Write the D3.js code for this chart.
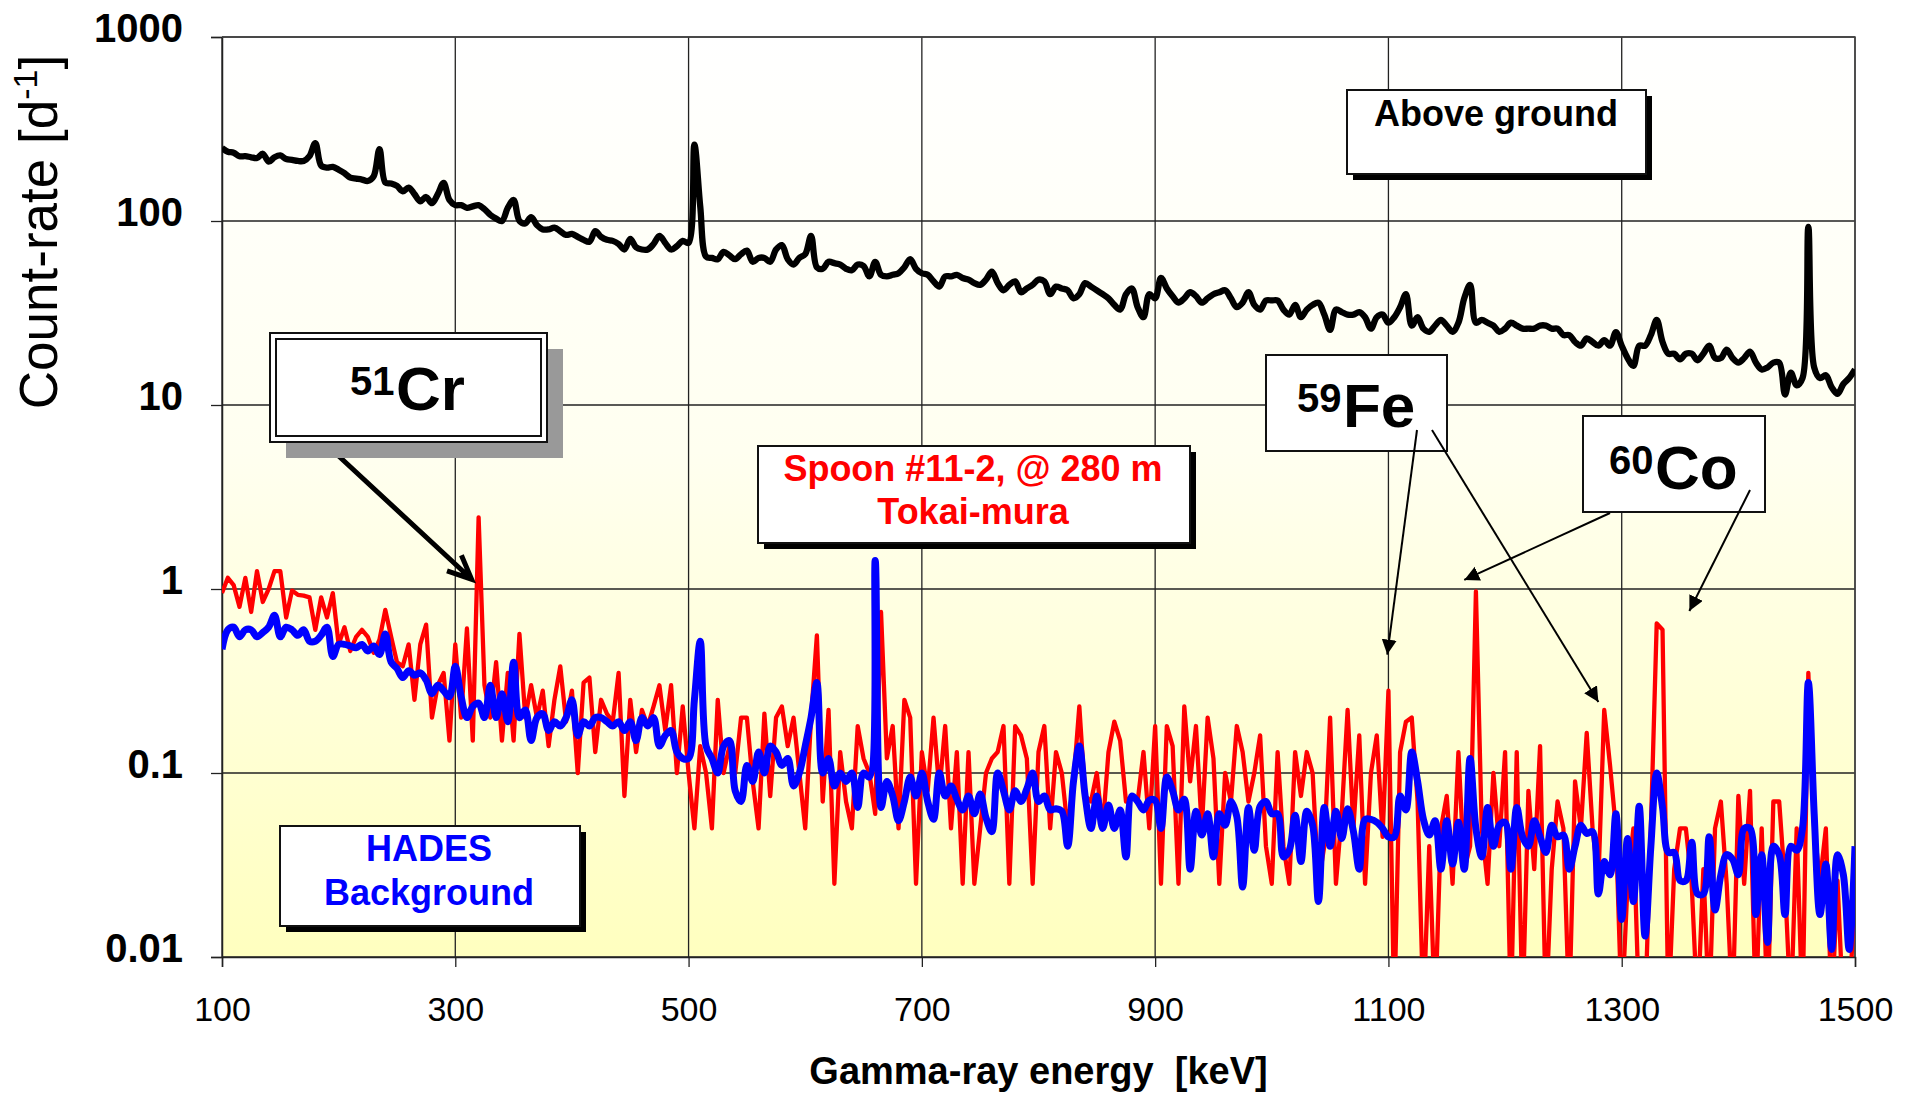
<!DOCTYPE html>
<html lang="en">
  <head>
    <meta charset="UTF-8" />
    <title>Gamma-ray spectra: above ground, Spoon #11-2 and HADES background</title>
    <script src="https://d3js.org/d3.v7.min.js"></script>
    <style>
      body { margin: 0; background: #fff; }
      text { font-family: "Liberation Sans", Arial, Helvetica, sans-serif; }
      .ytick text { font-size: 40px; font-weight: bold; }
      .xtick text { font-size: 34px; }
      .box-label { font-size: 36px; font-weight: bold; text-anchor: middle; }
      .big { font-size: 62px; font-weight: bold; }
      .sup { font-size: 40px; font-weight: bold; }
    </style>
  </head>
  <body>
    <svg id="chart" width="1910" height="1093"></svg>

    <script>
      // Spectra binned in 5 keV steps from 100 keV to 1500 keV
      const energyStart = 100;
      const energyStep = 5;

      // Count-rate [1/d] - above ground (black)
      const aboveGround = [
        249, 238, 235, 225, 225, 222, 220, 232, 210, 222, 227, 217, 215, 212, 212, 225, 265, 200, 195, 197,
        190, 182, 172, 170, 168, 165, 175, 246, 162, 160, 155, 145, 152, 140, 128, 135, 125, 140, 161, 130,
        122, 122, 118, 120, 122, 116, 108, 103, 100, 118, 130, 100, 97, 105, 95, 90, 90, 92, 88, 84,
        85, 82, 79, 77, 88, 82, 79, 78, 75, 70, 80, 72, 70, 70, 75, 83, 76, 70, 73, 78,
        76, 260, 120, 64, 63, 62, 68, 65, 62, 66, 69, 60, 63, 63, 60, 70, 74, 62, 58, 63,
        66, 83, 56, 55, 60, 59, 58, 55, 54, 58, 57, 50, 60, 51, 50, 51, 52, 56, 62, 55,
        52, 51, 47, 44, 50, 50, 51, 49, 48, 46, 45, 48, 53, 46, 42, 45, 47, 41, 43, 45,
        48, 47, 40, 44, 43, 42, 38, 40, 46, 44, 42, 40, 38, 35, 33, 40, 43, 34, 30, 40,
        38, 49, 43, 39, 36, 38, 41, 39, 36, 38, 40, 41, 42, 38, 34, 36, 41, 35, 33, 37,
        37, 37, 33, 31, 35, 30, 33, 35, 36, 31, 25.6, 33, 32, 31, 31, 32, 30, 26, 30, 31,
        28, 30, 34, 40, 27, 30, 26, 25, 27, 29, 27, 25, 28, 38, 45, 28, 29, 28, 27, 25,
        26, 28, 27, 26, 26, 26, 27, 27, 26, 26, 24, 24, 22, 21, 23, 22, 21, 22.5, 21, 24.9,
        21, 18, 16.3, 21, 21, 24, 29, 22, 19, 19, 17.7, 19, 19, 17.5, 19, 21, 18, 18, 20, 18,
        17, 18, 19.5, 17, 15.6, 16, 17, 17, 11.4, 15, 12.8, 14, 93, 16, 14, 14.5, 12.5, 11.5, 13, 14, 15.6
      ];

      // Count-rate [1/d] - Spoon #11-2 @ 280 m, Tokai-mura (red); 0.005 = empty bin
      const spoon = [
        0.95, 1.15, 1.05, 0.8, 1.15, 0.75, 1.25, 0.85, 1.0, 1.25, 1.25, 0.7, 0.98, 0.93, 0.92, 0.9, 0.6, 0.9, 0.7, 0.95,
        0.5, 0.62, 0.46, 0.55, 0.6, 0.55, 0.45, 0.53, 0.77, 0.55, 0.4, 0.38, 0.5, 0.25, 0.5, 0.64, 0.2, 0.3, 0.35, 0.15,
        0.5, 0.2, 0.61, 0.15, 2.45, 0.3, 0.2, 0.4, 0.15, 0.35, 0.15, 0.57, 0.2, 0.3, 0.2, 0.28, 0.14, 0.25, 0.38, 0.19,
        0.28, 0.1, 0.31, 0.33, 0.13, 0.25, 0.21, 0.19, 0.35, 0.075, 0.25, 0.13, 0.22, 0.18, 0.23, 0.3, 0.17, 0.3, 0.1, 0.23,
        0.1, 0.05, 0.14, 0.1, 0.05, 0.25, 0.1, 0.14, 0.1, 0.2, 0.2, 0.09, 0.05, 0.21, 0.075, 0.2, 0.23, 0.14, 0.2, 0.1,
        0.05, 0.2, 0.56, 0.07, 0.22, 0.025, 0.13, 0.07, 0.05, 0.18, 0.12, 0.1, 0.06, 0.75, 0.12, 0.18, 0.05, 0.25, 0.2, 0.025,
        0.13, 0.08, 0.2, 0.08, 0.18, 0.05, 0.13, 0.025, 0.13, 0.025, 0.05, 0.1, 0.12, 0.13, 0.18, 0.025, 0.18, 0.16, 0.12, 0.025,
        0.13, 0.18, 0.05, 0.13, 0.1, 0.05, 0.09, 0.23, 0.075, 0.07, 0.1, 0.05, 0.13, 0.19, 0.15, 0.07, 0.075, 0.07, 0.13, 0.05,
        0.18, 0.025, 0.18, 0.14, 0.025, 0.23, 0.09, 0.18, 0.05, 0.2, 0.12, 0.025, 0.1, 0.07, 0.18, 0.13, 0.07, 0.1, 0.16, 0.04,
        0.025, 0.13, 0.04, 0.025, 0.13, 0.075, 0.13, 0.1, 0.025, 0.04, 0.2, 0.025, 0.06, 0.22, 0.05, 0.16, 0.025, 0.1, 0.16, 0.045,
        0.28, 0.005, 0.13, 0.19, 0.2, 0.07, 0.005, 0.04, 0.005, 0.05, 0.075, 0.025, 0.13, 0.03, 0.04, 0.97, 0.05, 0.025, 0.1, 0.04,
        0.13, 0.005, 0.13, 0.005, 0.08, 0.03, 0.14, 0.005, 0.03, 0.07, 0.05, 0.005, 0.09, 0.05, 0.165, 0.05, 0.026, 0.22, 0.11, 0.05,
        0.005, 0.025, 0.05, 0.005, 0.005, 0.05, 0.65, 0.6, 0.005, 0.03, 0.05, 0.05, 0.025, 0.005, 0.03, 0.005, 0.05, 0.07, 0.025, 0.005,
        0.075, 0.025, 0.08, 0.005, 0.05, 0.005, 0.07, 0.07, 0.025, 0.005, 0.05, 0.005, 0.35, 0.05, 0.026, 0.05, 0.005, 0.026, 0.005, 0.005, 0.026
      ];

      // Count-rate [1/d] - HADES background (blue)
      const hades = [
        0.47, 0.6, 0.62, 0.55, 0.6, 0.6, 0.55, 0.58, 0.62, 0.72, 0.55, 0.62, 0.6, 0.56, 0.6, 0.52, 0.52, 0.56, 0.62, 0.43,
        0.5, 0.5, 0.49, 0.48, 0.5, 0.46, 0.49, 0.44, 0.57, 0.4, 0.37, 0.33, 0.36, 0.34, 0.35, 0.32, 0.27, 0.3, 0.28, 0.26,
        0.38, 0.26, 0.2, 0.23, 0.24, 0.2, 0.3, 0.2, 0.27, 0.19, 0.4, 0.2, 0.22, 0.15, 0.2, 0.21, 0.17, 0.19, 0.18, 0.2,
        0.25, 0.16, 0.19, 0.18, 0.2, 0.2, 0.19, 0.18, 0.19, 0.17, 0.19, 0.15, 0.2, 0.18, 0.2, 0.14, 0.16, 0.17, 0.13, 0.12,
        0.12, 0.25, 0.52, 0.14, 0.12, 0.1, 0.14, 0.15, 0.08, 0.07, 0.11, 0.09, 0.13, 0.1, 0.14, 0.13, 0.11, 0.12, 0.085, 0.1,
        0.14, 0.2, 0.31, 0.1, 0.12, 0.085, 0.1, 0.09, 0.1, 0.065, 0.1, 0.095, 1.43, 0.065, 0.09, 0.075, 0.055, 0.07, 0.095, 0.075,
        0.1, 0.07, 0.056, 0.1, 0.075, 0.085, 0.072, 0.063, 0.075, 0.06, 0.077, 0.057, 0.048, 0.1, 0.08, 0.063, 0.08, 0.07, 0.082, 0.1,
        0.07, 0.075, 0.063, 0.064, 0.062, 0.04, 0.09, 0.14, 0.075, 0.05, 0.075, 0.05, 0.067, 0.05, 0.063, 0.035, 0.075, 0.07, 0.063, 0.071,
        0.071, 0.05, 0.095, 0.08, 0.063, 0.072, 0.03, 0.062, 0.046, 0.06, 0.035, 0.06, 0.052, 0.07, 0.058, 0.024, 0.065, 0.038, 0.066, 0.07,
        0.06, 0.06, 0.035, 0.038, 0.059, 0.033, 0.062, 0.052, 0.02, 0.065, 0.04, 0.062, 0.044, 0.064, 0.048, 0.03, 0.056, 0.056, 0.054, 0.05,
        0.045, 0.045, 0.075, 0.063, 0.13, 0.09, 0.056, 0.046, 0.055, 0.03, 0.055, 0.032, 0.054, 0.03, 0.12, 0.05, 0.035, 0.065, 0.04, 0.052,
        0.054, 0.03, 0.065, 0.045, 0.04, 0.055, 0.045, 0.037, 0.052, 0.045, 0.046, 0.03, 0.04, 0.052, 0.047, 0.048, 0.022, 0.033, 0.028, 0.06,
        0.016, 0.044, 0.02, 0.066, 0.013, 0.04, 0.1, 0.065, 0.037, 0.037, 0.026, 0.026, 0.042, 0.022, 0.022, 0.045, 0.018, 0.028, 0.036, 0.034,
        0.028, 0.05, 0.05, 0.017, 0.036, 0.012, 0.04, 0.036, 0.017, 0.04, 0.038, 0.05, 0.31, 0.06, 0.017, 0.032, 0.011, 0.036, 0.028, 0.011, 0.04
      ];

      const xTicks = [100, 300, 500, 700, 900, 1100, 1300, 1500];
      const yTicks = [0.01, 0.1, 1, 10, 100, 1000];
      const yTickLabels = ["0.01", "0.1", "1", "10", "100", "1000"];

      // Peaks pointed at by the arrows [keV, count-rate]
      const crPeak = [314, 1.13];
      const fePeaks = [[1099, 0.44], [1280, 0.243]];
      const coPeaks = [[1165, 1.12], [1358, 0.76]];

      const svg = d3.select("#chart");
      const plot = { left: 222, right: 1855, top: 37, bottom: 957 };

      const x = d3.scaleLinear().domain([100, 1500]).range([plot.left, plot.right]);
      const y = d3.scaleLog().domain([0.01, 1000]).range([plot.bottom, plot.top]);

      const toPoints = (vals) => vals.map((v, i) => ({ e: energyStart + i * energyStep, v }));

      // Background gradient
      const defs = svg.append("defs");
      const grad = defs.append("linearGradient")
        .attr("id", "bg").attr("x1", 0).attr("y1", 0).attr("x2", 0).attr("y2", 1);
      grad.append("stop").attr("offset", "0%").attr("stop-color", "#ffffff");
      grad.append("stop").attr("offset", "45%").attr("stop-color", "#fffff0");
      grad.append("stop").attr("offset", "100%").attr("stop-color", "#ffffbf");

      defs.append("clipPath").attr("id", "clip")
        .append("rect")
        .attr("x", plot.left).attr("y", plot.top)
        .attr("width", plot.right - plot.left).attr("height", plot.bottom - plot.top);

      defs.append("marker")
        .attr("id", "head")
        .attr("markerUnits", "userSpaceOnUse")
        .attr("markerWidth", 16).attr("markerHeight", 16)
        .attr("refX", 15).attr("refY", 7.5)
        .attr("orient", "auto")
        .append("path").attr("d", "M0,0 L15,7.5 L0,15 Z").attr("fill", "#000");

      svg.append("rect")
        .attr("x", plot.left).attr("y", plot.top)
        .attr("width", plot.right - plot.left).attr("height", plot.bottom - plot.top)
        .attr("fill", "url(#bg)");

      // Grid
      svg.append("g").selectAll("line").data(xTicks).join("line")
        .attr("x1", (d) => x(d)).attr("x2", (d) => x(d))
        .attr("y1", plot.top).attr("y2", plot.bottom)
        .attr("stroke", "#222").attr("stroke-width", 1.3);
      svg.append("g").selectAll("line").data(yTicks).join("line")
        .attr("x1", plot.left).attr("x2", plot.right)
        .attr("y1", (d) => y(d)).attr("y2", (d) => y(d))
        .attr("stroke", "#222").attr("stroke-width", 1.3);

      // Axes
      const xAxis = svg.append("g")
        .attr("class", "xtick")
        .attr("transform", `translate(0,${plot.bottom})`)
        .call(d3.axisBottom(x).tickValues(xTicks).tickSize(10).tickPadding(30).tickFormat(d3.format("d")));
      xAxis.select(".domain").attr("stroke", "#222").attr("stroke-width", 1.5);
      xAxis.selectAll(".tick line").attr("stroke", "#222").attr("stroke-width", 1.3);
      xAxis.selectAll("text").attr("fill", "#000");

      const yAxis = svg.append("g")
        .attr("class", "ytick")
        .attr("transform", `translate(${plot.left},0)`)
        .call(d3.axisLeft(y).tickValues(yTicks).tickSize(11).tickPadding(28)
          .tickFormat((d, i) => yTickLabels[i]));
      yAxis.select(".domain").attr("stroke", "#222").attr("stroke-width", 1.5);
      yAxis.selectAll(".tick line").attr("stroke", "#222").attr("stroke-width", 1.3);
      yAxis.selectAll("text").attr("fill", "#000").attr("dy", "0.1em");

      // Frame top/right
      svg.append("path")
        .attr("d", `M${plot.left},${plot.top}H${plot.right}V${plot.bottom}`)
        .attr("fill", "none").attr("stroke", "#444").attr("stroke-width", 1.5);

      // Series
      const series = svg.append("g").attr("clip-path", "url(#clip)");
      const lineLin = d3.line().x((d) => x(d.e)).y((d) => y(d.v));
      const lineSmooth = d3.line().x((d) => x(d.e)).y((d) => y(d.v)).curve(d3.curveCatmullRom.alpha(0.5));

      series.append("path").datum(toPoints(spoon))
        .attr("d", lineLin).attr("fill", "none")
        .attr("stroke", "#ff0000").attr("stroke-width", 4.3).attr("stroke-linejoin", "round");
      series.append("path").datum(toPoints(hades))
        .attr("d", lineSmooth).attr("fill", "none")
        .attr("stroke", "#0000ff").attr("stroke-width", 7).attr("stroke-linejoin", "round");
      series.append("path").datum(toPoints(aboveGround))
        .attr("d", lineSmooth).attr("fill", "none")
        .attr("stroke", "#000").attr("stroke-width", 6.3).attr("stroke-linejoin", "round");

      // Axis titles
      svg.append("text")
        .attr("x", (plot.left + plot.right) / 2).attr("y", 1084)
        .attr("text-anchor", "middle")
        .style("font-size", "38px").style("font-weight", "bold").style("white-space", "pre")
        .text("Gamma-ray energy  [keV]");

      const yTitle = svg.append("text")
        .attr("transform", "translate(57,232) rotate(-90)")
        .attr("text-anchor", "middle")
        .style("font-size", "53px");
      yTitle.append("tspan").text("Count-rate [d");
      yTitle.append("tspan").attr("dy", -20).style("font-size", "34px").text("-1");
      yTitle.append("tspan").attr("dy", 20).text("]");

      // Annotation helpers
      function box(x0, y0, w, h, shadow, shadowColor) {
        if (shadow) {
          svg.append("rect").attr("x", x0 + shadow[0]).attr("y", y0 + shadow[1])
            .attr("width", w).attr("height", h).attr("fill", shadowColor);
        }
        svg.append("rect").attr("x", x0).attr("y", y0).attr("width", w).attr("height", h)
          .attr("fill", "#fff").attr("stroke", "#111").attr("stroke-width", 2);
      }
      function label(cx, yb, txt, color) {
        svg.append("text").attr("class", "box-label")
          .attr("x", cx).attr("y", yb).attr("fill", color).text(txt);
      }
      function isotope(x0, yb, mass, sym) {
        svg.append("text").attr("class", "sup").attr("x", x0).attr("y", yb - 15).text(mass);
        svg.append("text").attr("class", "big").attr("x", x0 + 46).attr("y", yb).text(sym);
      }
      function thinArrow(x0, y0, peak) {
        svg.append("line")
          .attr("x1", x0).attr("y1", y0).attr("x2", x(peak[0])).attr("y2", y(peak[1]))
          .attr("stroke", "#000").attr("stroke-width", 2).attr("marker-end", "url(#head)");
      }

      // 51Cr arrow (thick, open head), drawn under its box
      {
        const tx = x(crPeak[0]), ty = y(crPeak[1]);
        const x0 = 330, y0 = 448;
        const ang = Math.atan2(ty - y0, tx - x0);
        const arm = 26, spread = 0.42;
        svg.append("path")
          .attr("d", `M${x0},${y0}L${tx},${ty}` +
            `M${tx - arm * Math.cos(ang - spread)},${ty - arm * Math.sin(ang - spread)}L${tx},${ty}` +
            `L${tx - arm * Math.cos(ang + spread)},${ty - arm * Math.sin(ang + spread)}`)
          .attr("fill", "none").attr("stroke", "#000").attr("stroke-width", 5)
          .attr("stroke-linejoin", "miter");
      }

      // 51Cr box with gray shadow and double frame
      box(270, 333, 277, 109, [16, 16], "#999");
      svg.append("rect").attr("x", 276).attr("y", 339).attr("width", 265).attr("height", 97)
        .attr("fill", "none").attr("stroke", "#111").attr("stroke-width", 2);
      isotope(350, 410, "51", "Cr");

      // Above ground
      box(1347, 90, 299, 84, [6, 6], "#000");
      label(1496, 126, "Above ground", "#000");

      // Spoon
      box(758, 446, 432, 97, [6, 6], "#000");
      label(973, 481, "Spoon #11-2, @ 280 m", "#ff0000");
      label(973, 524, "Tokai-mura", "#ff0000");

      // HADES
      box(280, 826, 300, 100, [6, 6], "#000");
      label(429, 861, "HADES", "#0000ff");
      label(429, 905, "Background", "#0000ff");

      // 59Fe
      box(1266, 355, 181, 96, null, null);
      isotope(1297, 427, "59", "Fe");
      thinArrow(1417, 430, fePeaks[0]);
      thinArrow(1432, 430, fePeaks[1]);

      // 60Co
      box(1583, 416, 182, 96, null, null);
      isotope(1609, 489, "60", "Co");
      thinArrow(1610, 513, coPeaks[0]);
      thinArrow(1750, 490, coPeaks[1]);
    </script>
  </body>
</html>
